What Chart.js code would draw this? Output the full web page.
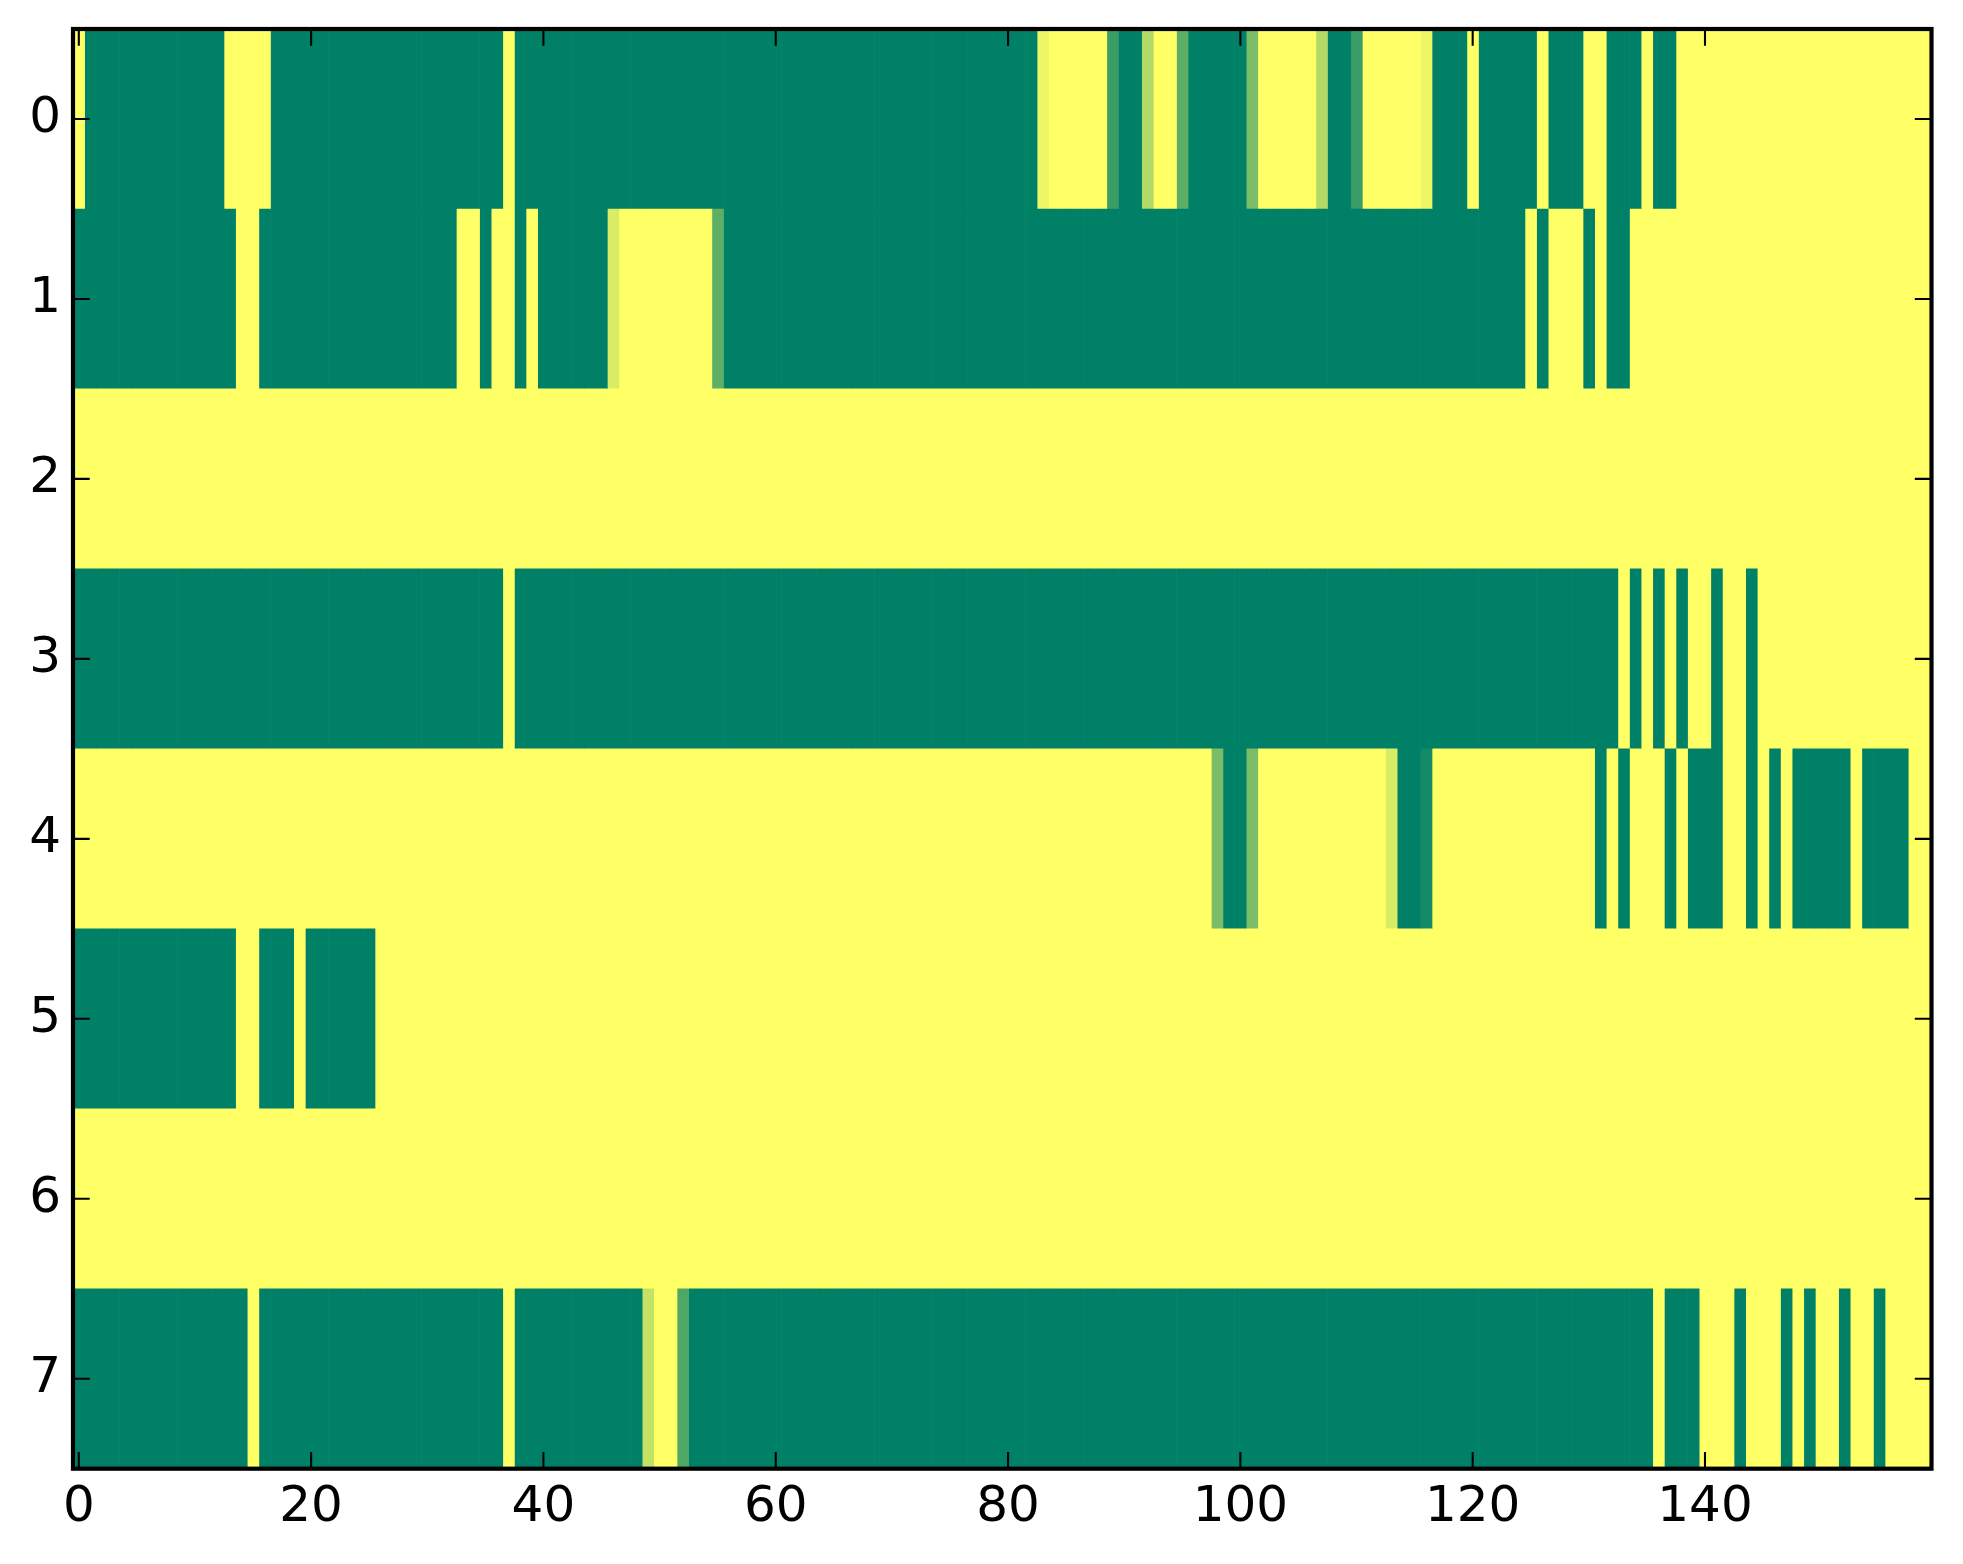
<!DOCTYPE html>
<html><head><meta charset="utf-8">
<script src="https://cdn.jsdelivr.net/npm/chart.js@4.4.1/dist/chart.umd.min.js"></script>
<style>html,body{margin:0;padding:0;background:#fff;} #wrap{width:1963px;height:1564px;position:relative;}</style>
</head><body><div id="wrap"><canvas id="c"></canvas></div>
<script>
// Row (y) category labels and x tick labels
const rowLabels = ['0','1','2','3','4','5','6','7'];
const xTickValues = [0,20,40,60,80,100,120,140];

// Cell values per row (0 = green, 1 = yellow), 160 columns each
const row0 = [
1,0,0,0,0,0,0,0,0,0, 0,0,0,1,1,1,1,0,0,0,
0,0,0,0,0,0,0,0,0,0, 0,0,0,0,0,0,0,1,0,0,
0,0,0,0,0,0,0,0,0,0, 0,0,0,0,0,0,0,0,0,0,
0,0,0,0,0,0,0,0,0,0, 0,0,0,0,0,0,0,0,0,0,
0,0,0,0.93,1,1,1,1,1,0.23, 0,0,0.7,1,1,0.36,0,0,0,0,
0,0.48,1,1,1,1,1,0.7,0,0, 0.23,1,1,1,1,1,0.93,0,0,0,
1,0,0,0,0,0,1,0,0,0, 1,1,0,0,0,1,0,0,1,1,
1,1,1,1,1,1,1,1,1,1, 1,1,1,1,1,1,1,1,1,1];
const row1 = [
0,0,0,0,0,0,0,0,0,0, 0,0,0,0,1,1,0,0,0,0,
0,0,0,0,0,0,0,0,0,0, 0,0,0,1,1,0,1,1,0,1,
0,0,0,0,0,0,0.85,1,1,1, 1,1,1,1,1,0.37,0,0,0,0,
0,0,0,0,0,0,0,0,0,0, 0,0,0,0,0,0,0,0,0,0,
0,0,0,0,0,0,0,0,0,0, 0,0,0,0,0,0,0,0,0,0,
0,0,0,0,0,0,0,0,0,0, 0,0,0,0,0,0,0,0,0,0,
0,0,0,0,0,1,0,1,1,1, 0,1,0,0,1,1,1,1,1,1,
1,1,1,1,1,1,1,1,1,1, 1,1,1,1,1,1,1,1,1,1];
const row2 = [
1,1,1,1,1,1,1,1,1,1, 1,1,1,1,1,1,1,1,1,1,
1,1,1,1,1,1,1,1,1,1, 1,1,1,1,1,1,1,1,1,1,
1,1,1,1,1,1,1,1,1,1, 1,1,1,1,1,1,1,1,1,1,
1,1,1,1,1,1,1,1,1,1, 1,1,1,1,1,1,1,1,1,1,
1,1,1,1,1,1,1,1,1,1, 1,1,1,1,1,1,1,1,1,1,
1,1,1,1,1,1,1,1,1,1, 1,1,1,1,1,1,1,1,1,1,
1,1,1,1,1,1,1,1,1,1, 1,1,1,1,1,1,1,1,1,1,
1,1,1,1,1,1,1,1,1,1, 1,1,1,1,1,1,1,1,1,1];
const row3 = [
0,0,0,0,0,0,0,0,0,0, 0,0,0,0,0,0,0,0,0,0,
0,0,0,0,0,0,0,0,0,0, 0,0,0,0,0,0,0,1,0,0,
0,0,0,0,0,0,0,0,0,0, 0,0,0,0,0,0,0,0,0,0,
0,0,0,0,0,0,0,0,0,0, 0,0,0,0,0,0,0,0,0,0,
0,0,0,0,0,0,0,0,0,0, 0,0,0,0,0,0,0,0,0,0,
0,0,0,0,0,0,0,0,0,0, 0,0,0,0,0,0,0,0,0,0,
0,0,0,0,0,0,0,0,0,0, 0,0,0,1,0,1,0,1,0,1,
1,0,1,1,0,1,1,1,1,1, 1,1,1,1,1,1,1,1,1,1];
const row4 = [
1,1,1,1,1,1,1,1,1,1, 1,1,1,1,1,1,1,1,1,1,
1,1,1,1,1,1,1,1,1,1, 1,1,1,1,1,1,1,1,1,1,
1,1,1,1,1,1,1,1,1,1, 1,1,1,1,1,1,1,1,1,1,
1,1,1,1,1,1,1,1,1,1, 1,1,1,1,1,1,1,1,1,1,
1,1,1,1,1,1,1,1,1,1, 1,1,1,1,1,1,1,1,0.48,0,
0,0.48,1,1,1,1,1,1,1,1, 1,1,1,0.85,0,0,0.08,1,1,1,
1,1,1,1,1,1,1,1,1,1, 1,0,1,0,1,1,1,0,1,0,
0,0,1,1,0,1,0,1,0,0, 0,0,0,1,0,0,0,0,1,1];
const row5 = [
0,0,0,0,0,0,0,0,0,0, 0,0,0,0,1,1,0,0,0,1,
0,0,0,0,0,0,1,1,1,1, 1,1,1,1,1,1,1,1,1,1,
1,1,1,1,1,1,1,1,1,1, 1,1,1,1,1,1,1,1,1,1,
1,1,1,1,1,1,1,1,1,1, 1,1,1,1,1,1,1,1,1,1,
1,1,1,1,1,1,1,1,1,1, 1,1,1,1,1,1,1,1,1,1,
1,1,1,1,1,1,1,1,1,1, 1,1,1,1,1,1,1,1,1,1,
1,1,1,1,1,1,1,1,1,1, 1,1,1,1,1,1,1,1,1,1,
1,1,1,1,1,1,1,1,1,1, 1,1,1,1,1,1,1,1,1,1];
const row6 = [
1,1,1,1,1,1,1,1,1,1, 1,1,1,1,1,1,1,1,1,1,
1,1,1,1,1,1,1,1,1,1, 1,1,1,1,1,1,1,1,1,1,
1,1,1,1,1,1,1,1,1,1, 1,1,1,1,1,1,1,1,1,1,
1,1,1,1,1,1,1,1,1,1, 1,1,1,1,1,1,1,1,1,1,
1,1,1,1,1,1,1,1,1,1, 1,1,1,1,1,1,1,1,1,1,
1,1,1,1,1,1,1,1,1,1, 1,1,1,1,1,1,1,1,1,1,
1,1,1,1,1,1,1,1,1,1, 1,1,1,1,1,1,1,1,1,1,
1,1,1,1,1,1,1,1,1,1, 1,1,1,1,1,1,1,1,1,1];
const row7 = [
0,0,0,0,0,0,0,0,0,0, 0,0,0,0,0,1,0,0,0,0,
0,0,0,0,0,0,0,0,0,0, 0,0,0,0,0,0,0,1,0,0,
0,0,0,0,0,0,0,0,0,0.77, 1,1,0.31,0,0,0,0,0,0,0,
0,0,0,0,0,0,0,0,0,0, 0,0,0,0,0,0,0,0,0,0,
0,0,0,0,0,0,0,0,0,0, 0,0,0,0,0,0,0,0,0,0,
0,0,0,0,0,0,0,0,0,0, 0,0,0,0,0,0,0,0,0,0,
0,0,0,0,0,0,0,0,0,0, 0,0,0,0,0,0,1,0,0,0,
1,1,1,0,1,1,1,0,1,0, 1,1,0,1,1,0,1,1,1,1];

const matrix = [row0,row1,row2,row3,row4,row5,row6,row7];

// matplotlib "summer" colormap
function summer(v){
  return 'rgb(' + Math.round(255*v) + ',' + Math.round(127.5 + 127.5*v) + ',102)';
}

const nCols = row0.length;
const datasets = [];
for (let c = 0; c < nCols; c++) {
  datasets.push({
    label: 'col ' + c,
    data: matrix.map(() => [c - 0.5, c + 0.5]),
    backgroundColor: matrix.map(r => summer(r[c]))
  });
}

const framePlugin = {
  id: 'frame',
  afterDraw(chart) {
    const ctx = chart.ctx, a = chart.chartArea, x = chart.scales.x, y = chart.scales.y;
    const L = 16.7;
    ctx.save();
    ctx.strokeStyle = '#000';
    ctx.lineWidth = 2.1;
    ctx.beginPath();
    x.ticks.forEach(t => {
      const px = x.getPixelForValue(t.value);
      ctx.moveTo(px, a.bottom); ctx.lineTo(px, a.bottom - L);
      ctx.moveTo(px, a.top); ctx.lineTo(px, a.top + L);
    });
    y.ticks.forEach((t, i) => {
      const py = y.getPixelForTick(i);
      ctx.moveTo(a.left, py); ctx.lineTo(a.left + L, py);
      ctx.moveTo(a.right, py); ctx.lineTo(a.right - L, py);
    });
    ctx.stroke();
    ctx.lineWidth = 4.2;
    ctx.strokeRect(a.left, a.top, a.right - a.left, a.bottom - a.top);
    ctx.restore();
  }
};

new Chart(document.getElementById('c'), {
  type: 'bar',
  data: { labels: rowLabels, datasets: datasets },
  plugins: [framePlugin],
  options: {
    indexAxis: 'y',
    responsive: true,
    maintainAspectRatio: false,
    animation: false,
    devicePixelRatio: 1,
    layout: { padding: { top: 29, right: 31.5, left: 0, bottom: 0 } },
    datasets: { bar: { grouped: false, barPercentage: 1, categoryPercentage: 1, borderWidth: 0 } },
    plugins: { legend: { display: false }, tooltip: { enabled: false } },
    scales: {
      x: {
        type: 'linear', position: 'bottom', min: -0.5, max: 159.5,
        afterBuildTicks: s => { s.ticks = xTickValues.map(v => ({ value: v })); },
        afterFit: s => { s.height = 95.3; s.paddingLeft = 0; s.paddingRight = 0; },
        grid: { display: false, drawTicks: false },
        border: { display: false },
        ticks: { font: { family: 'DejaVu Sans', size: 50 }, color: '#000', padding: 9, maxRotation: 0, autoSkip: false }
      },
      y: {
        type: 'category', offset: true,
        afterFit: s => { s.width = 73; s.paddingTop = 0; s.paddingBottom = 0; },
        grid: { display: false, drawTicks: false },
        border: { display: false },
        ticks: { font: { family: 'DejaVu Sans', size: 50 }, color: '#000', padding: 12 }
      }
    }
  }
});
</script>
</body></html>
